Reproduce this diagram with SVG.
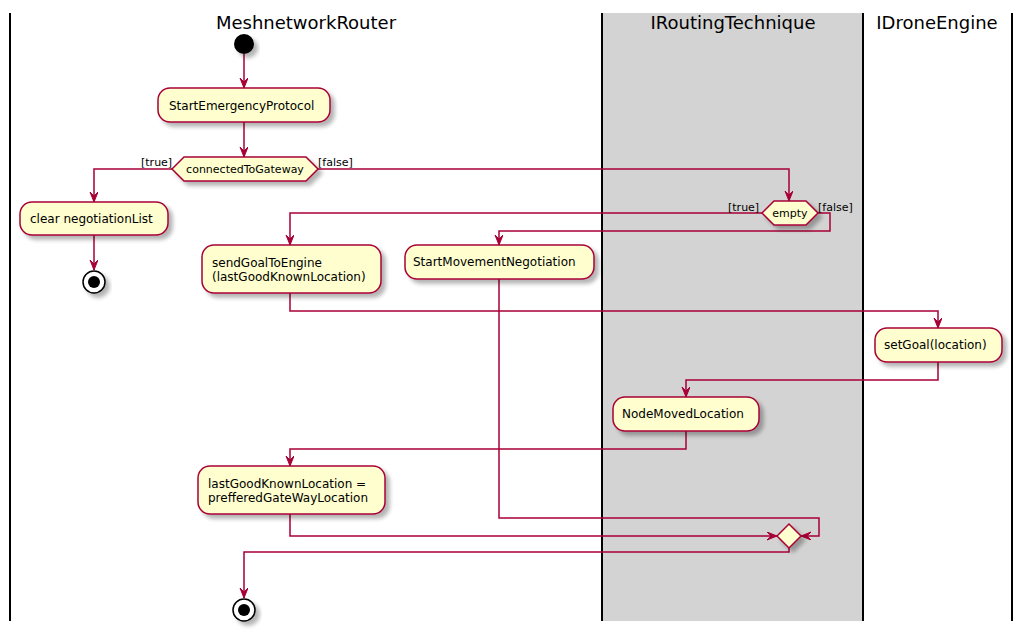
<svg xmlns="http://www.w3.org/2000/svg" width="1022" height="632" viewBox="0 0 1022 632">
<style>
.lane{stroke:#000;stroke-width:2;fill:none}
.title{font-family:"DejaVu Sans",sans-serif;font-size:18px;fill:#000}
.act{fill:#FEFECE;stroke:#A80036;stroke-width:1.5;filter:url(#sh)}
.t{font-family:"DejaVu Sans",sans-serif;font-size:12px;fill:#000}
.lbl{font-family:"DejaVu Sans",sans-serif;font-size:11px;fill:#000}
.c{fill:none;stroke:#A80036;stroke-width:1.5;marker-end:url(#ah)}
</style>
<defs>
<filter id="sh" x="-20%" y="-20%" width="150%" height="160%">
<feGaussianBlur in="SourceAlpha" stdDeviation="2"/>
<feOffset dx="4" dy="4" result="b"/>
<feComponentTransfer><feFuncA type="linear" slope="0.3"/></feComponentTransfer>
<feMerge><feMergeNode/><feMergeNode in="SourceGraphic"/></feMerge>
</filter>
<marker id="ah" markerUnits="userSpaceOnUse" markerWidth="12" markerHeight="10" refX="10" refY="4" orient="auto">
<path d="M0,0 L10,4 L0,8 L4,4 Z" fill="#A80036" stroke="#A80036" stroke-width="1"/>
</marker>
</defs>
<g id="lanes">
<rect x="603" y="13" width="260" height="608" fill="#D3D3D3"/>
<line class="lane" x1="10" y1="13" x2="10" y2="621"/>
<line class="lane" x1="602" y1="13" x2="602" y2="621"/>
<line class="lane" x1="863" y1="13" x2="863" y2="621"/>
<line class="lane" x1="1012" y1="13" x2="1012" y2="621"/>
<text class="title" x="306" y="29" text-anchor="middle">MeshnetworkRouter</text>
<text class="title" x="733" y="29" text-anchor="middle">IRoutingTechnique</text>
<text class="title" x="937" y="29" text-anchor="middle">IDroneEngine</text>
</g>
<g id="connectors">
<path class="c" d="M244,54 L244,88"/>
<path class="c" d="M244,122 L244,157"/>
<path class="c" d="M172,169 L94,169 L94,202"/>
<path class="c" d="M94,235 L94,270"/>
<path class="c" d="M318,169 L789,169 L789,201"/>
<path class="c" d="M762,213 L290,213 L290,245"/>
<path class="c" d="M818,213 L830,213 L830,231 L499,231 L499,245"/>
<path class="c" d="M290,293 L290,311 L938,311 L938,328"/>
<path class="c" d="M938,362 L938,380 L686,380 L686,397"/>
<path class="c" d="M686,431 L686,449 L290,449 L290,466"/>
<path class="c" d="M290,514 L290,536 L777,536"/>
<path class="c" d="M499,279 L499,518 L819,518 L819,536 L801,536"/>
<path class="c" d="M789,548 L789,552 L244,552 L244,598"/>
<text class="lbl" x="141" y="166">[true]</text>
<text class="lbl" x="318" y="166">[false]</text>
<text class="lbl" x="728" y="211">[true]</text>
<text class="lbl" x="818" y="211">[false]</text>
</g>
<g id="start"><circle cx="244" cy="44" r="10" fill="#000" filter="url(#sh)"/></g>
<g id="startEmergency">
<rect class="act" x="158" y="88" width="172" height="34" rx="12"/>
<text class="t" x="169" y="110">StartEmergencyProtocol</text>
</g>
<g id="connectedToGateway">
<polygon class="act" points="172,169 184,157 306,157 318,169 306,181 184,181"/>
<text class="t" x="245" y="173" text-anchor="middle" style="font-size:11px">connectedToGateway</text>
</g>
<g id="clearList">
<rect class="act" x="20" y="202" width="148" height="33" rx="12"/>
<text class="t" x="30" y="223">clear negotiationList</text>
</g>
<g id="end1">
<circle cx="94" cy="282" r="11" fill="#fff" stroke="#000" stroke-width="1.5" filter="url(#sh)"/>
<circle cx="94" cy="282" r="6" fill="#000"/>
</g>
<g id="empty">
<polygon class="act" points="762,213 774,201 806,201 818,213 806,225 774,225"/>
<text class="t" x="790" y="217" text-anchor="middle" style="font-size:11px">empty</text>
</g>
<g id="sendGoal">
<rect class="act" x="202" y="245" width="179" height="48" rx="12"/>
<text class="t" x="212" y="267">sendGoalToEngine</text>
<text class="t" x="212" y="281">(lastGoodKnownLocation)</text>
</g>
<g id="startMovement">
<rect class="act" x="405" y="245" width="189" height="34" rx="12"/>
<text class="t" x="413" y="266">StartMovementNegotiation</text>
</g>
<g id="setGoal">
<rect class="act" x="875" y="328" width="127" height="34" rx="12"/>
<text class="t" x="884" y="349">setGoal(location)</text>
</g>
<g id="nodeMoved">
<rect class="act" x="613" y="397" width="146" height="34" rx="12"/>
<text class="t" x="622" y="418">NodeMovedLocation</text>
</g>
<g id="lastGood">
<rect class="act" x="198" y="466" width="187" height="48" rx="12"/>
<text class="t" x="208" y="488">lastGoodKnownLocation =</text>
<text class="t" x="208" y="502">prefferedGateWayLocation</text>
</g>
<g id="merge">
<polygon class="act" points="777,536 789,524 801,536 789,548"/>
</g>
<g id="end2">
<circle cx="244" cy="610" r="11" fill="#fff" stroke="#000" stroke-width="1.5" filter="url(#sh)"/>
<circle cx="244" cy="610" r="6" fill="#000"/>
</g>
</svg>
